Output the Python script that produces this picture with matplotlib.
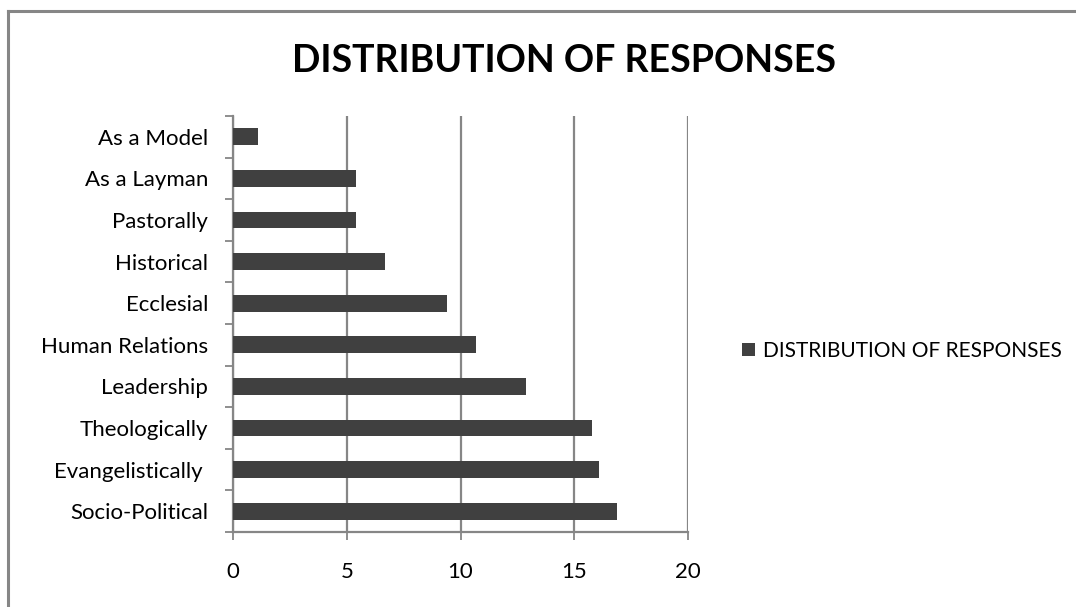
import matplotlib
matplotlib.use("Agg")
import matplotlib.pyplot as plt
from matplotlib.lines import Line2D
from matplotlib.ticker import FixedLocator

categories = ["Socio-Political", "Evangelistically ", "Theologically", "Leadership",
              "Human Relations", "Ecclesial", "Historical", "Pastorally",
              "As a Layman", "As a Model"]
values = [16.9, 16.1, 15.8, 12.9, 10.7, 9.4, 6.7, 5.4, 5.4, 1.1]
series_name = "DISTRIBUTION OF RESPONSES"
x_ticks = [0, 5, 10, 15, 20]

bar_color = "#404040"
grid_color = "#868686"
font = "Lato"

W, H = 1076, 607
fig = plt.figure(figsize=(W / 100, H / 100), dpi=100)

# chart frame (left and top edges visible)
fig.add_artist(Line2D([8 / W, 8 / W], [0, 1 - 11 / H], color=grid_color, lw=2.2,
                      transform=fig.transFigure))
fig.add_artist(Line2D([8 / W, 1], [1 - 11 / H, 1 - 11 / H], color=grid_color, lw=2.2,
                      transform=fig.transFigure))

ax = fig.add_axes([233 / W, 1 - 532 / H, (688 - 233) / W, (532 - 116) / H])
y = list(range(len(categories)))
bars = ax.barh(y, values, height=0.4, color=bar_color, label=series_name, zorder=3)

ax.set_xlim(0, 20)
ax.set_ylim(-0.5, len(categories) - 0.5)
ax.xaxis.set_major_locator(FixedLocator(x_ticks))
ax.set_xticklabels([str(t) for t in x_ticks])
ax.grid(axis="x", color=grid_color, lw=1.6, zorder=0)
ax.set_axisbelow(True)

ax.set_yticks(y)
ax.set_yticklabels(categories)
ax.yaxis.set_minor_locator(FixedLocator([i - 0.5 for i in range(len(categories) + 1)]))
ax.tick_params(axis="y", which="major", length=0, pad=18)
ax.tick_params(axis="y", which="minor", length=5.5, width=1.3, color=grid_color)
ax.tick_params(axis="x", which="major", length=5.8, width=1.3, color=grid_color, pad=16)

for side in ("top", "right"):
    ax.spines[side].set_visible(False)
for side in ("left", "bottom"):
    ax.spines[side].set_color(grid_color)
    ax.spines[side].set_linewidth(1.6)

for lbl in ax.get_yticklabels() + ax.get_xticklabels():
    lbl.set_fontfamily(font)
    lbl.set_fontsize(16)
    lbl.set_color("#000000")

fig.text(564 / W, 1 - 61 / H, series_name, ha="center", va="center",
         fontsize=27, fontweight="bold", fontfamily=font)

leg = fig.legend(handles=[bars], labels=[series_name], loc="center left",
                 bbox_to_anchor=(742 / W, 1 - 351 / H), frameon=False,
                 prop={"family": font, "size": 15}, handlelength=0.62,
                 handleheight=0.62, handletextpad=0.38, borderpad=0, borderaxespad=0)

fig.savefig("out.png", dpi=100, facecolor="white")
